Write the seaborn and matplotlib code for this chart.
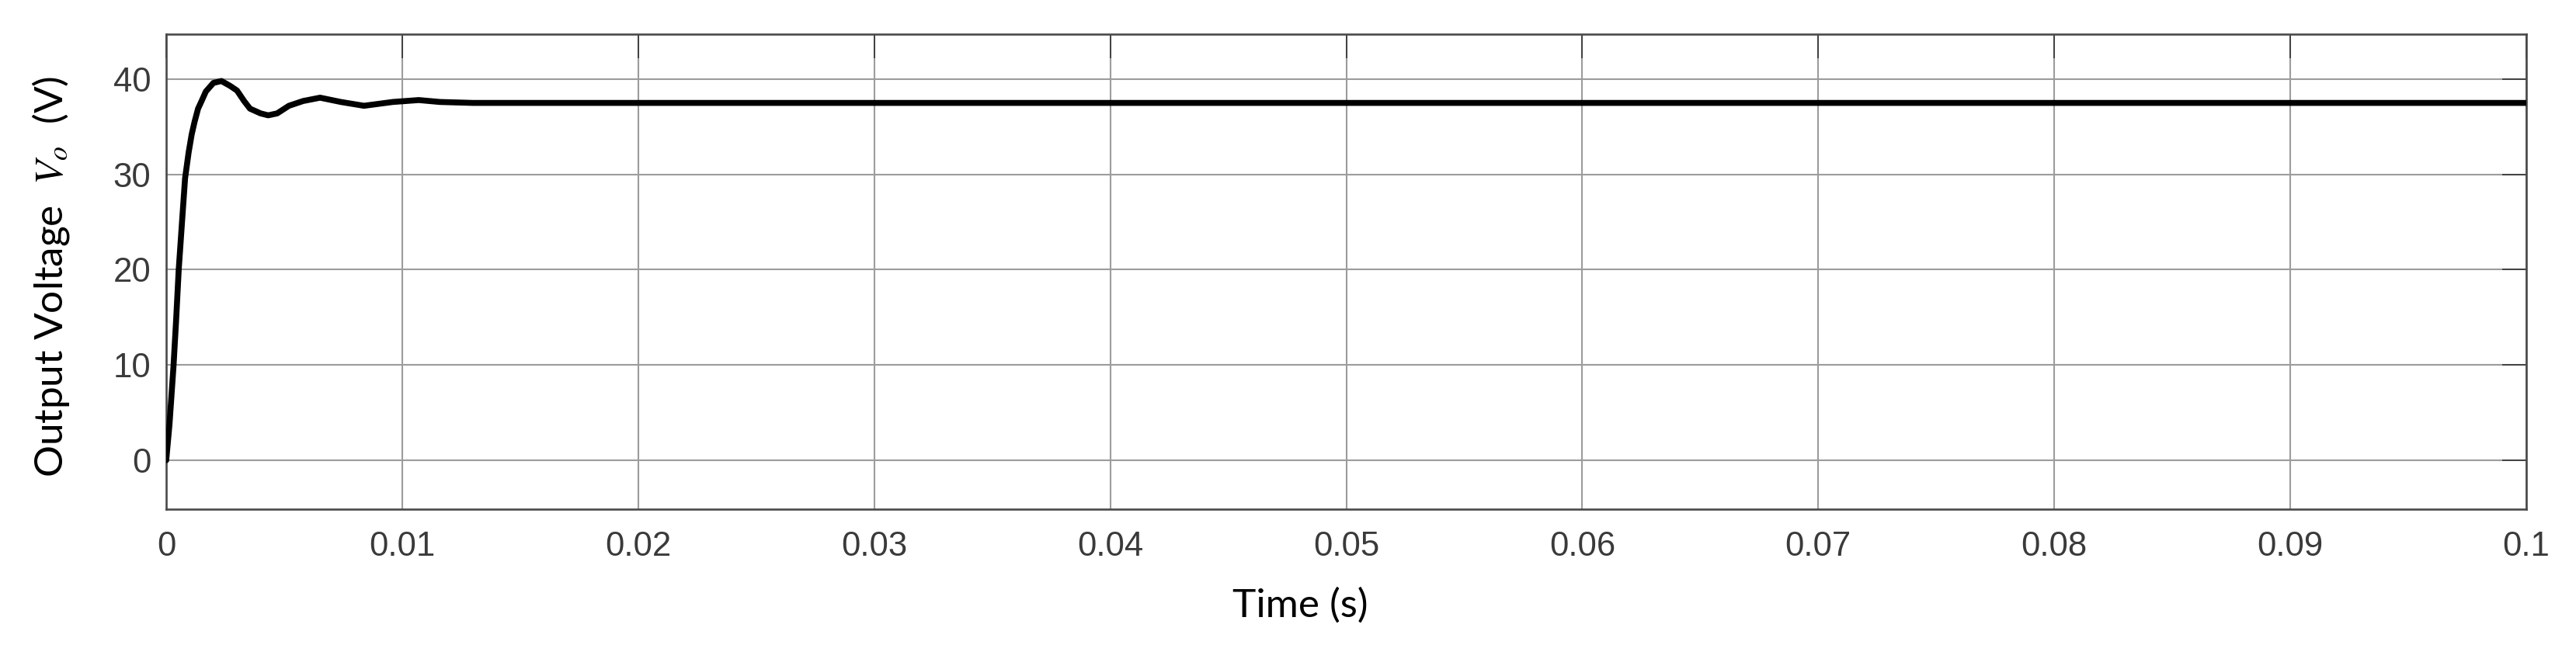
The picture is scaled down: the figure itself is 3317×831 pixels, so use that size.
import matplotlib
matplotlib.use("Agg")
import matplotlib.pyplot as plt
import seaborn as sns
import pandas as pd

# --- data ---
time_s = [0.0, 0.00014, 0.00031, 0.00042, 0.00053, 0.00067, 0.0008, 0.00095,
          0.00108, 0.0012, 0.00135, 0.0015, 0.00168, 0.002, 0.00234, 0.0027,
          0.003, 0.0033, 0.00355, 0.004, 0.00432, 0.0047, 0.0052, 0.0058,
          0.00652, 0.0074, 0.00838, 0.0096, 0.0107, 0.0116, 0.013, 0.015,
          0.02, 0.03, 0.04, 0.05, 0.06, 0.07, 0.08, 0.09, 0.1]
vout = [0.0, 3.8, 9.9, 14.7, 20.0, 25.0, 29.6, 32.3,
        34.2, 35.5, 36.9, 37.7, 38.7, 39.6, 39.8, 39.3,
        38.8, 37.7, 36.9, 36.4, 36.2, 36.4, 37.2, 37.7,
        38.05, 37.6, 37.2, 37.6, 37.8, 37.6, 37.5, 37.5,
        37.5, 37.5, 37.5, 37.5, 37.5, 37.5, 37.5, 37.5, 37.5]
xticks = [0, 0.01, 0.02, 0.03, 0.04, 0.05, 0.06, 0.07, 0.08, 0.09, 0.1]
xtick_labels = ["0", "0.01", "0.02", "0.03", "0.04", "0.05", "0.06", "0.07", "0.08", "0.09", "0.1"]
yticks = [0, 10, 20, 30, 40]
ytick_labels = ["0", "10", "20", "30", "40"]

sns.set_style("white")
plt.rcParams["mathtext.fontset"] = "stix"

fig = plt.figure(figsize=(33.17, 8.31), dpi=100)
ax = fig.add_axes([0.06452, 0.2106, 0.9162, 0.7365])

df = pd.DataFrame({"t": time_s, "v": vout})
sns.lineplot(data=df, x="t", y="v", color="black", linewidth=5.5, ax=ax,
             solid_capstyle="round", solid_joinstyle="round", zorder=3)

ax.set_xlim(0, 0.1)
ax.set_ylim(-5.13, 44.72)
ax.set_xticks(xticks, xtick_labels)
ax.set_yticks(yticks, ytick_labels)

ax.grid(True, color="#9c9c9c", linewidth=1.5)
for s in ax.spines.values():
    s.set_color("#4a4a4a")
    s.set_linewidth(1.9)
    s.set_visible(True)

ax.tick_params(axis="both", which="major", direction="in", length=22,
               width=1.3, color="#3a3a3a", top=True, right=True,
               labelcolor="#3a3a3a", labelsize=31.5)
ax.tick_params(axis="x", pad=20)
ax.tick_params(axis="y", pad=14)
for lbl in ax.get_xticklabels() + ax.get_yticklabels():
    lbl.set_fontfamily("Liberation Sans")

ax.set_xlabel("Time (s)", fontfamily="Lato", fontsize=37, color="black")
ax.set_ylabel("Output Voltage  $V_o$  (V)", fontfamily="Lato", fontsize=37,
              color="black")
ax.xaxis.set_label_coords(0.4804, -0.165)
ax.yaxis.set_label_coords(-0.040, 0.49)

fig.savefig("out.png", dpi=100, facecolor="white")
